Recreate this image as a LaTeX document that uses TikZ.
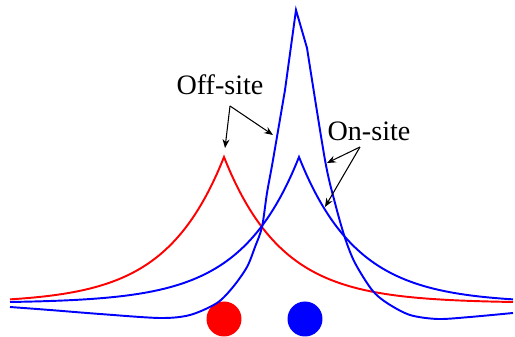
\documentclass[tikz,border=0pt]{standalone}
\usepackage{fontspec}
\setmainfont{Liberation Serif}
\usetikzlibrary{arrows.meta}
\begin{document}
\begin{tikzpicture}[x=0.02cm,y=-0.02cm,
  orbital/.style={line width=1.1pt},
  tag/.style={font=\fontsize{16}{19}\selectfont,inner sep=0pt,anchor=base},
  pointer/.style={line width=0.6pt,-{Stealth[length=5pt,width=4pt]}},
  atom/.style={circle,inner sep=0pt,minimum size=7mm}]
  \useasboundingbox (0,0) rectangle (515,337);
  % Atoms
  \node[atom,fill=red] (offatom) at (224,319) {};
  \node[atom,fill=blue] (onatom) at (305,319) {};
  % Off-site orbital
  \draw[orbital,red] plot[domain=10:513,samples=504] (\x,{303-146*exp(-abs(\x-224)/58)});
  % On-site orbital
  \draw[orbital,blue] plot[domain=10:513,samples=504] (\x,{303-146*exp(-abs(\x-299)/58)});
  % Contracted on-site orbital
  \draw[orbital,blue] plot[smooth] coordinates {(10,307) (50,310) (100,314) (160,318) (190,315)
      (217,303) (233,287) (247,267) (255,247) (262,227) (267,193) (273,160) (285,90)}
    -- (296,10)
    -- plot[smooth] coordinates {(307,48) (325,160) (335,203) (345,238) (355,263) (372,290)
      (387,303) (410,315) (438,319) (470,317) (513,313)};
  % Labels
  \node[tag] (offsite) at (220,95) {Off-site};
  \node[tag] (onsite) at (369,141) {On-site};
  \coordinate (offtail) at (230,106);
  \coordinate (offpeak) at (225,148);
  \coordinate (offflank) at (273,135);
  \coordinate (ontail) at (360,147);
  \coordinate (onflank) at (327,163);
  \coordinate (onpeak) at (325,207);
  \draw[pointer] (offtail) -- (offpeak);
  \draw[pointer] (offtail) -- (offflank);
  \draw[pointer] (ontail) -- (onflank);
  \draw[pointer] (ontail) -- (onpeak);
\end{tikzpicture}
\end{document}
